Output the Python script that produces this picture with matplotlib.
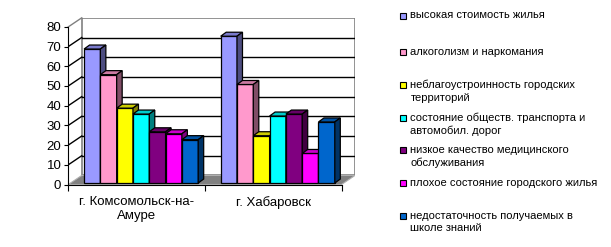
import numpy as np
import matplotlib
matplotlib.use("Agg")
import matplotlib.pyplot as plt
from matplotlib.patches import Polygon, Rectangle
from matplotlib.colors import to_rgb

plt.rcParams['font.family'] = ['Liberation Sans', 'DejaVu Sans']

# data
cities = ['г. Комсомольск-на-\nАмуре', 'г. Хабаровск']
problems = ['высокая стоимость жилья',
            'алкоголизм и наркомания',
            'неблагоустроинность городских\nтерриторий',
            'состояние обществ. транспорта и\nавтомобил. дорог',
            'низкое качество медицинского\nобслуживания',
            'плохое состояние городского жилья',
            'недостаточность получаемых в\nшколе знаний']
komsomolsk = [68, 55, 38, 35, 26, 25, 22]
khabarovsk = [74.5, 50, 24, 34, 35, 15, 31]
colors = ['#9999FF', '#FF99CC', '#FFFF00', '#00FFFF', '#800080', '#FF00FF', '#0066CC']

values = np.array([komsomolsk, khabarovsk])
W, H = 611, 247
fig = plt.figure(figsize=(W / 100, H / 100), dpi=100)

# 3d look: depth offset of the back wall (in data units)
ddx, ddy = 0.0985, 4.6
ax = fig.add_axes([68.3 / W, (H - 184.5) / H, 286.7 / W, 166.7 / H])
ax.set_xlim(0, 2 + ddx)
ax.set_ylim(0, 80 + ddy)

# back wall
ax.add_patch(Rectangle((ddx, ddy), 2, 80, facecolor='white', edgecolor='#808080',
                       lw=1.2, zorder=0))
for v in range(10, 80, 10):
    ax.plot([ddx, 2 + ddx], [v + ddy, v + ddy], color='black', lw=1, zorder=1)
    ax.plot([0, ddx], [v, v + ddy], color='black', lw=1, zorder=1)
ax.plot([0, ddx], [80, 80 + ddy], color='#808080', lw=1, zorder=1, clip_on=False)
# floor
ax.add_patch(Polygon([(0, 0), (2, 0), (2 + ddx, ddy), (ddx, ddy)], closed=True,
                     facecolor='#808080', edgecolor='#b0b0b0', lw=0.8, zorder=2))

# bars
w = 16.3 / 136.6
xoff = 0.033
bot = 0.75
bdx, bdy = 5.5 / 136.6, 4 / 1.97
n = len(problems)
for c in range(len(cities)):
    for i in range(n):
        v = values[c][i]
        xl = c + 0.5 - n * w / 2 + i * w + xoff
        base = np.array(to_rgb(colors[i]))
        z = 3 + c * n + i
        ax.bar(xl, v, width=w, bottom=bot, align='edge', color=colors[i],
               edgecolor='black', lw=0.9, zorder=z)
        top = [(xl, bot + v), (xl + w, bot + v), (xl + w + bdx, bot + v + bdy), (xl + bdx, bot + v + bdy)]
        side = [(xl + w, bot), (xl + w, bot + v), (xl + w + bdx, bot + v + bdy), (xl + w + bdx, bot + bdy)]
        ax.add_patch(Polygon(top, closed=True, facecolor=base * 0.8, edgecolor='black', lw=0.9, zorder=z))
        ax.add_patch(Polygon(side, closed=True, facecolor=base * 0.5, edgecolor='black', lw=0.9, zorder=z))

# axes
for s in ['top', 'right']:
    ax.spines[s].set_visible(False)
ax.spines['left'].set_bounds(0, 80)
ax.spines['bottom'].set_bounds(0, 2)
ax.spines['left'].set_zorder(50)
ax.spines['bottom'].set_zorder(50)
ax.set_yticks(range(0, 81, 10))
ax.tick_params(axis='y', direction='out', length=3, pad=2, labelsize=9.5)
ax.set_xticks([0, 1, 2])
ax.set_xticklabels(['', '', ''])
ax.set_xticks([0.5, 1.5], minor=True)
ax.set_xticklabels(cities, minor=True, fontsize=9.5, linespacing=1.25)
ax.tick_params(axis='x', which='major', direction='out', length=4)
ax.tick_params(axis='x', which='minor', length=0, pad=8)

# legend
ly = [16, 52, 85, 118, 150, 183, 216]
for i in range(n):
    fig.add_artist(Rectangle((400 / W, 1 - (ly[i] + 3) / H), 6 / W, 6 / H,
                             transform=fig.transFigure, facecolor=colors[i],
                             edgecolor='black', lw=0.8))
    fig.text(410.5 / W, 1 - (ly[i] - 5.5) / H, problems[i], fontsize=8.05, va='top',
             ha='left', linespacing=1.33)

fig.savefig('out.png', dpi=100)
